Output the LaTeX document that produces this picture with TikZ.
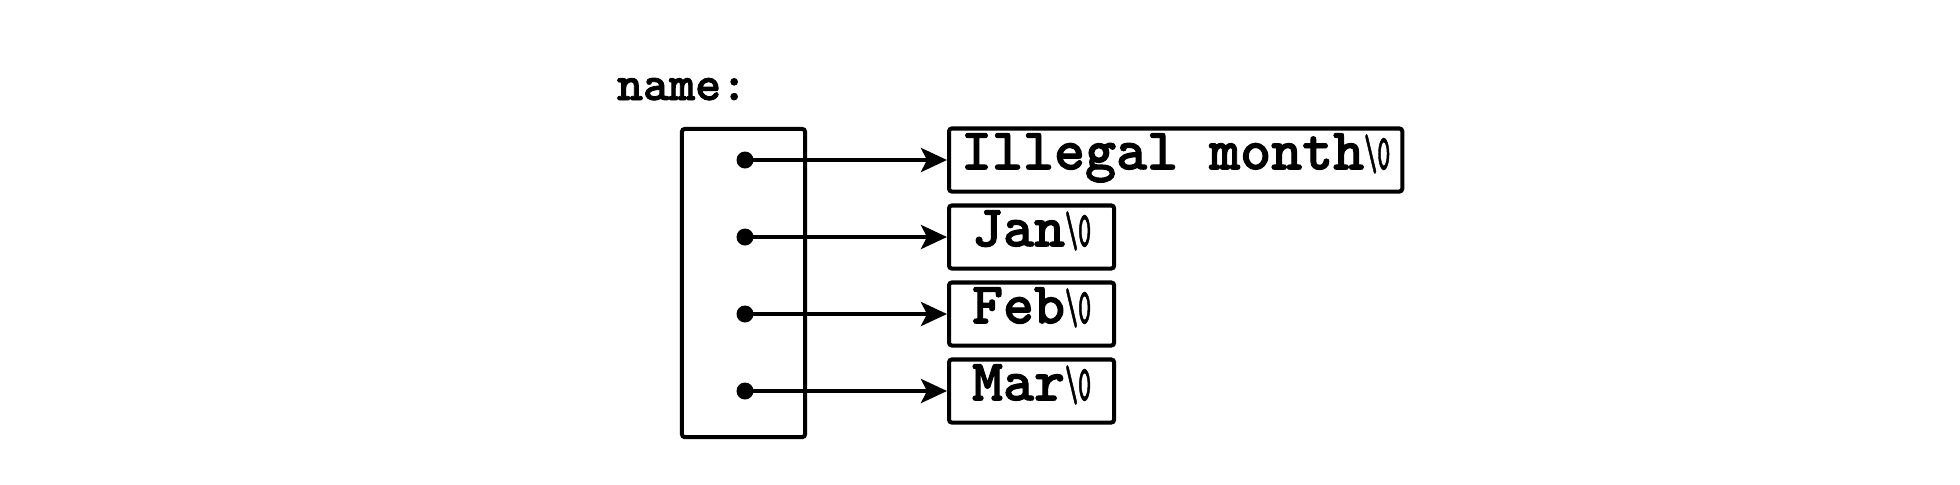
\documentclass[tikz,border=0pt]{standalone}
\usepackage{fontspec}
\usepackage{graphicx}
\newfontfamily\hmono{lmmonolt10-bold}[Extension=.otf, FakeBold=1.6]
\usetikzlibrary{arrows.meta}
\newcommand{\nulch}{\scalebox{0.42}[0.85]{\textbackslash0}}
\begin{document}
\begin{tikzpicture}[x=0.01cm,y=-0.01cm, line width=1.15pt,
  strbox/.style={draw, rounded corners=0.8pt, inner sep=0pt,
    font=\hmono\fontsize{16.8}{18}\selectfont,
    text height=0.62em, text depth=0.09em, minimum height=0.63cm, anchor=west},
  ptr/.style={-{Stealth[length=0.26cm,width=0.24cm,inset=0.06cm]}, line width=1.15pt},
  dotnode/.style={circle, fill, inner sep=0pt, minimum size=0.17cm}]
\useasboundingbox (0,0) rectangle (1960,484);
\node[anchor=base west, inner sep=0pt, font=\hmono\fontsize{14.1}{16}\selectfont] (lbl) at (615,100) {name:};
\node[draw, rounded corners=0.8pt, minimum width=1.23cm, minimum height=3.08cm, inner sep=0pt] (arr) at (743.5,283) {};
\foreach \i/\y in {1/160,2/237,3/314,4/391}
  \node[dotnode] (p\i) at (745,\y) {};
\node[strbox, minimum width=4.53cm] (s1) at (947,160) {Illegal month\nulch};
\node[strbox, minimum width=1.65cm] (s2) at (947,237) {Jan\nulch};
\node[strbox, minimum width=1.65cm] (s3) at (947,314) {Feb\nulch};
\node[strbox, minimum width=1.65cm] (s4) at (947,391) {Mar\nulch};
\draw[ptr] (p1.center) -- (s1.west);
\draw[ptr] (p2.center) -- (s2.west);
\draw[ptr] (p3.center) -- (s3.west);
\draw[ptr] (p4.center) -- (s4.west);
\end{tikzpicture}
\end{document}
